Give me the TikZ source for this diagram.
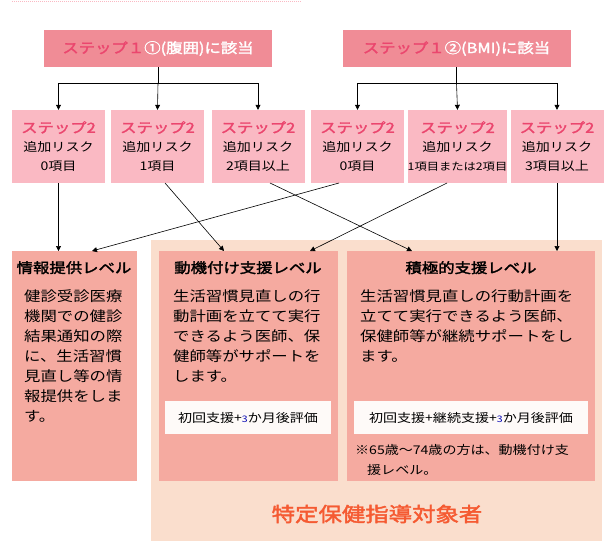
\documentclass[tikz,border=0pt]{standalone}
\usepackage{fontspec}
\setmainfont{Noto Sans CJK JP}[FakeStretch=1.17]
\newfontfamily\jpb{Noto Sans CJK JP}[FakeBold=2,FakeStretch=1.17]
\usetikzlibrary{arrows.meta}
\definecolor{sone}{RGB}{240,140,150}
\definecolor{stwo}{RGB}{250,185,195}
\definecolor{lvl}{RGB}{245,170,160}
\definecolor{bg}{RGB}{250,222,205}
\definecolor{pk}{RGB}{235,70,110}
\definecolor{org}{RGB}{245,90,50}
\begin{document}
\begin{tikzpicture}[x=1pt,y=-1pt,
  s1/.style={fill=sone,draw=none,minimum width=228pt,minimum height=37pt,inner sep=0pt,font=\fontsize{14}{15}\selectfont\jpb},
  s2/.style={fill=stwo,draw=none,minimum width=93pt,minimum height=73pt,inner sep=0pt,align=center,font=\fontsize{12}{19}\selectfont},
  lv/.style={fill=lvl,draw=none,inner sep=0pt},
  wb/.style={fill=white!85!bg,draw=none,minimum height=33pt,inner sep=0pt,font=\fontsize{12}{14}\selectfont},
  tx/.style={align=left,anchor=north west,inner sep=0pt,font=\fontsize{14}{20}\selectfont},
  hd/.style={anchor=north,inner sep=0pt,font=\fontsize{14}{16}\selectfont\jpb},
  ar/.style={-{Triangle[length=5pt,width=5pt]},line width=0.6pt},
  ln/.style={line width=0.6pt}]
\useasboundingbox (0,0) rectangle (614,549);
\draw[stwo,densely dotted,line width=1pt] (12,1) -- (302,1);
\node[s1] (a) at (158,48.5) {\textcolor{pk}{ステップ１}\textcolor{white}{①(腹囲)に該当}};
\node[s1] (b) at (456.5,48.5) {\textcolor{pk}{ステップ１}\textcolor{white}{②(BMI)に該当}};
\def\stt{{\fontsize{14}{17}\selectfont\jpb\textcolor{pk}{ステップ2}}\\}
\node[s2] (c1) at (58.5,146.5) {\stt 追加リスク\\0項目};
\node[s2] (c2) at (157.5,146.5) {\stt 追加リスク\\1項目};
\node[s2] (c3) at (258,146.5) {\stt 追加リスク\\2項目以上};
\node[s2] (c4) at (357.5,146.5) {\stt 追加リスク\\0項目};
\node[s2] (c5) at (457.5,146.5) {\stt 追加リスク\\{\fontsize{10.5}{19}\selectfont 1項目または2項目}};
\node[s2] (c6) at (557,146.5) {\stt 追加リスク\\3項目以上};
\coordinate (ja) at (158,83); \coordinate (jb) at (456.5,83);
\draw[ln] (a.south) -- (ja);
\draw[ar] (ja) -| (c1.north); \draw[ar] (ja) -- (c2.north); \draw[ar] (ja) -| (c3.north);
\draw[ln] (b.south) -- (jb);
\draw[ar] (jb) -| (c4.north); \draw[ar] (jb) -- (c5.north); \draw[ar] (jb) -| (c6.north);
\node[fill=bg,draw=none,minimum width=451pt,minimum height=301pt,inner sep=0pt,anchor=north west] (big) at (151,240) {};
\node[lv,minimum width=125pt,minimum height=230pt,anchor=north west] (L1) at (12,251) {};
\node[lv,minimum width=179pt,minimum height=230pt,anchor=north west] (L2) at (159,251) {};
\node[lv,minimum width=248pt,minimum height=230pt,anchor=north west] (L3) at (347,251) {};
\node[hd] (h1) at (74,261) {情報提供レベル};
\node[hd] (h2) at (248,261) {動機付け支援レベル};
\node[hd] (h3) at (471,261) {積極的支援レベル};
\node[tx] (t1) at (24,289) {健診受診医療\\機関での健診\\結果通知の際\\に、生活習慣\\見直し等の情\\報提供をしま\\す。};
\node[tx] (t2) at (173,289) {生活習慣見直しの行\\動計画を立てて実行\\できるよう医師、保\\健師等がサポートを\\します。};
\node[tx] (t3) at (360,289) {生活習慣見直しの行動計画を\\立てて実行できるよう医師、\\保健師等が継続サポートをし\\ます。};
\node[wb,minimum width=166pt] (w2) at (248,417.5) {初回支援+\textcolor{blue!70!black}{\fontsize{9}{10}\selectfont 3}か月後評価};
\node[wb,minimum width=234pt] (w3) at (471,417.5) {初回支援+継続支援+\textcolor{blue!70!black}{\fontsize{9}{10}\selectfont 3}か月後評価};
\node[tx,font=\fontsize{12}{20}\selectfont] (n3) at (355,444) {※65歳～74歳の方は、動機付け支\\\hspace{1em}援レベル。};
\node[inner sep=0pt,text=org,font=\fontsize{20}{24}\selectfont\jpb] (tt) at (377,514) {特定保健指導対象者};
\draw[ar] (c1.south) -- (c1.south |- L1.north);
\draw[ar] (c6.south) -- (c6.south |- L3.north);
\draw[ar] (339,183) -- (92,251);
\draw[ar] (165,183) -- (224,251);
\draw[ar] (270,183) -- (412,251);
\draw[ar] (447,183) -- (310,251);
\end{tikzpicture}
\end{document}
